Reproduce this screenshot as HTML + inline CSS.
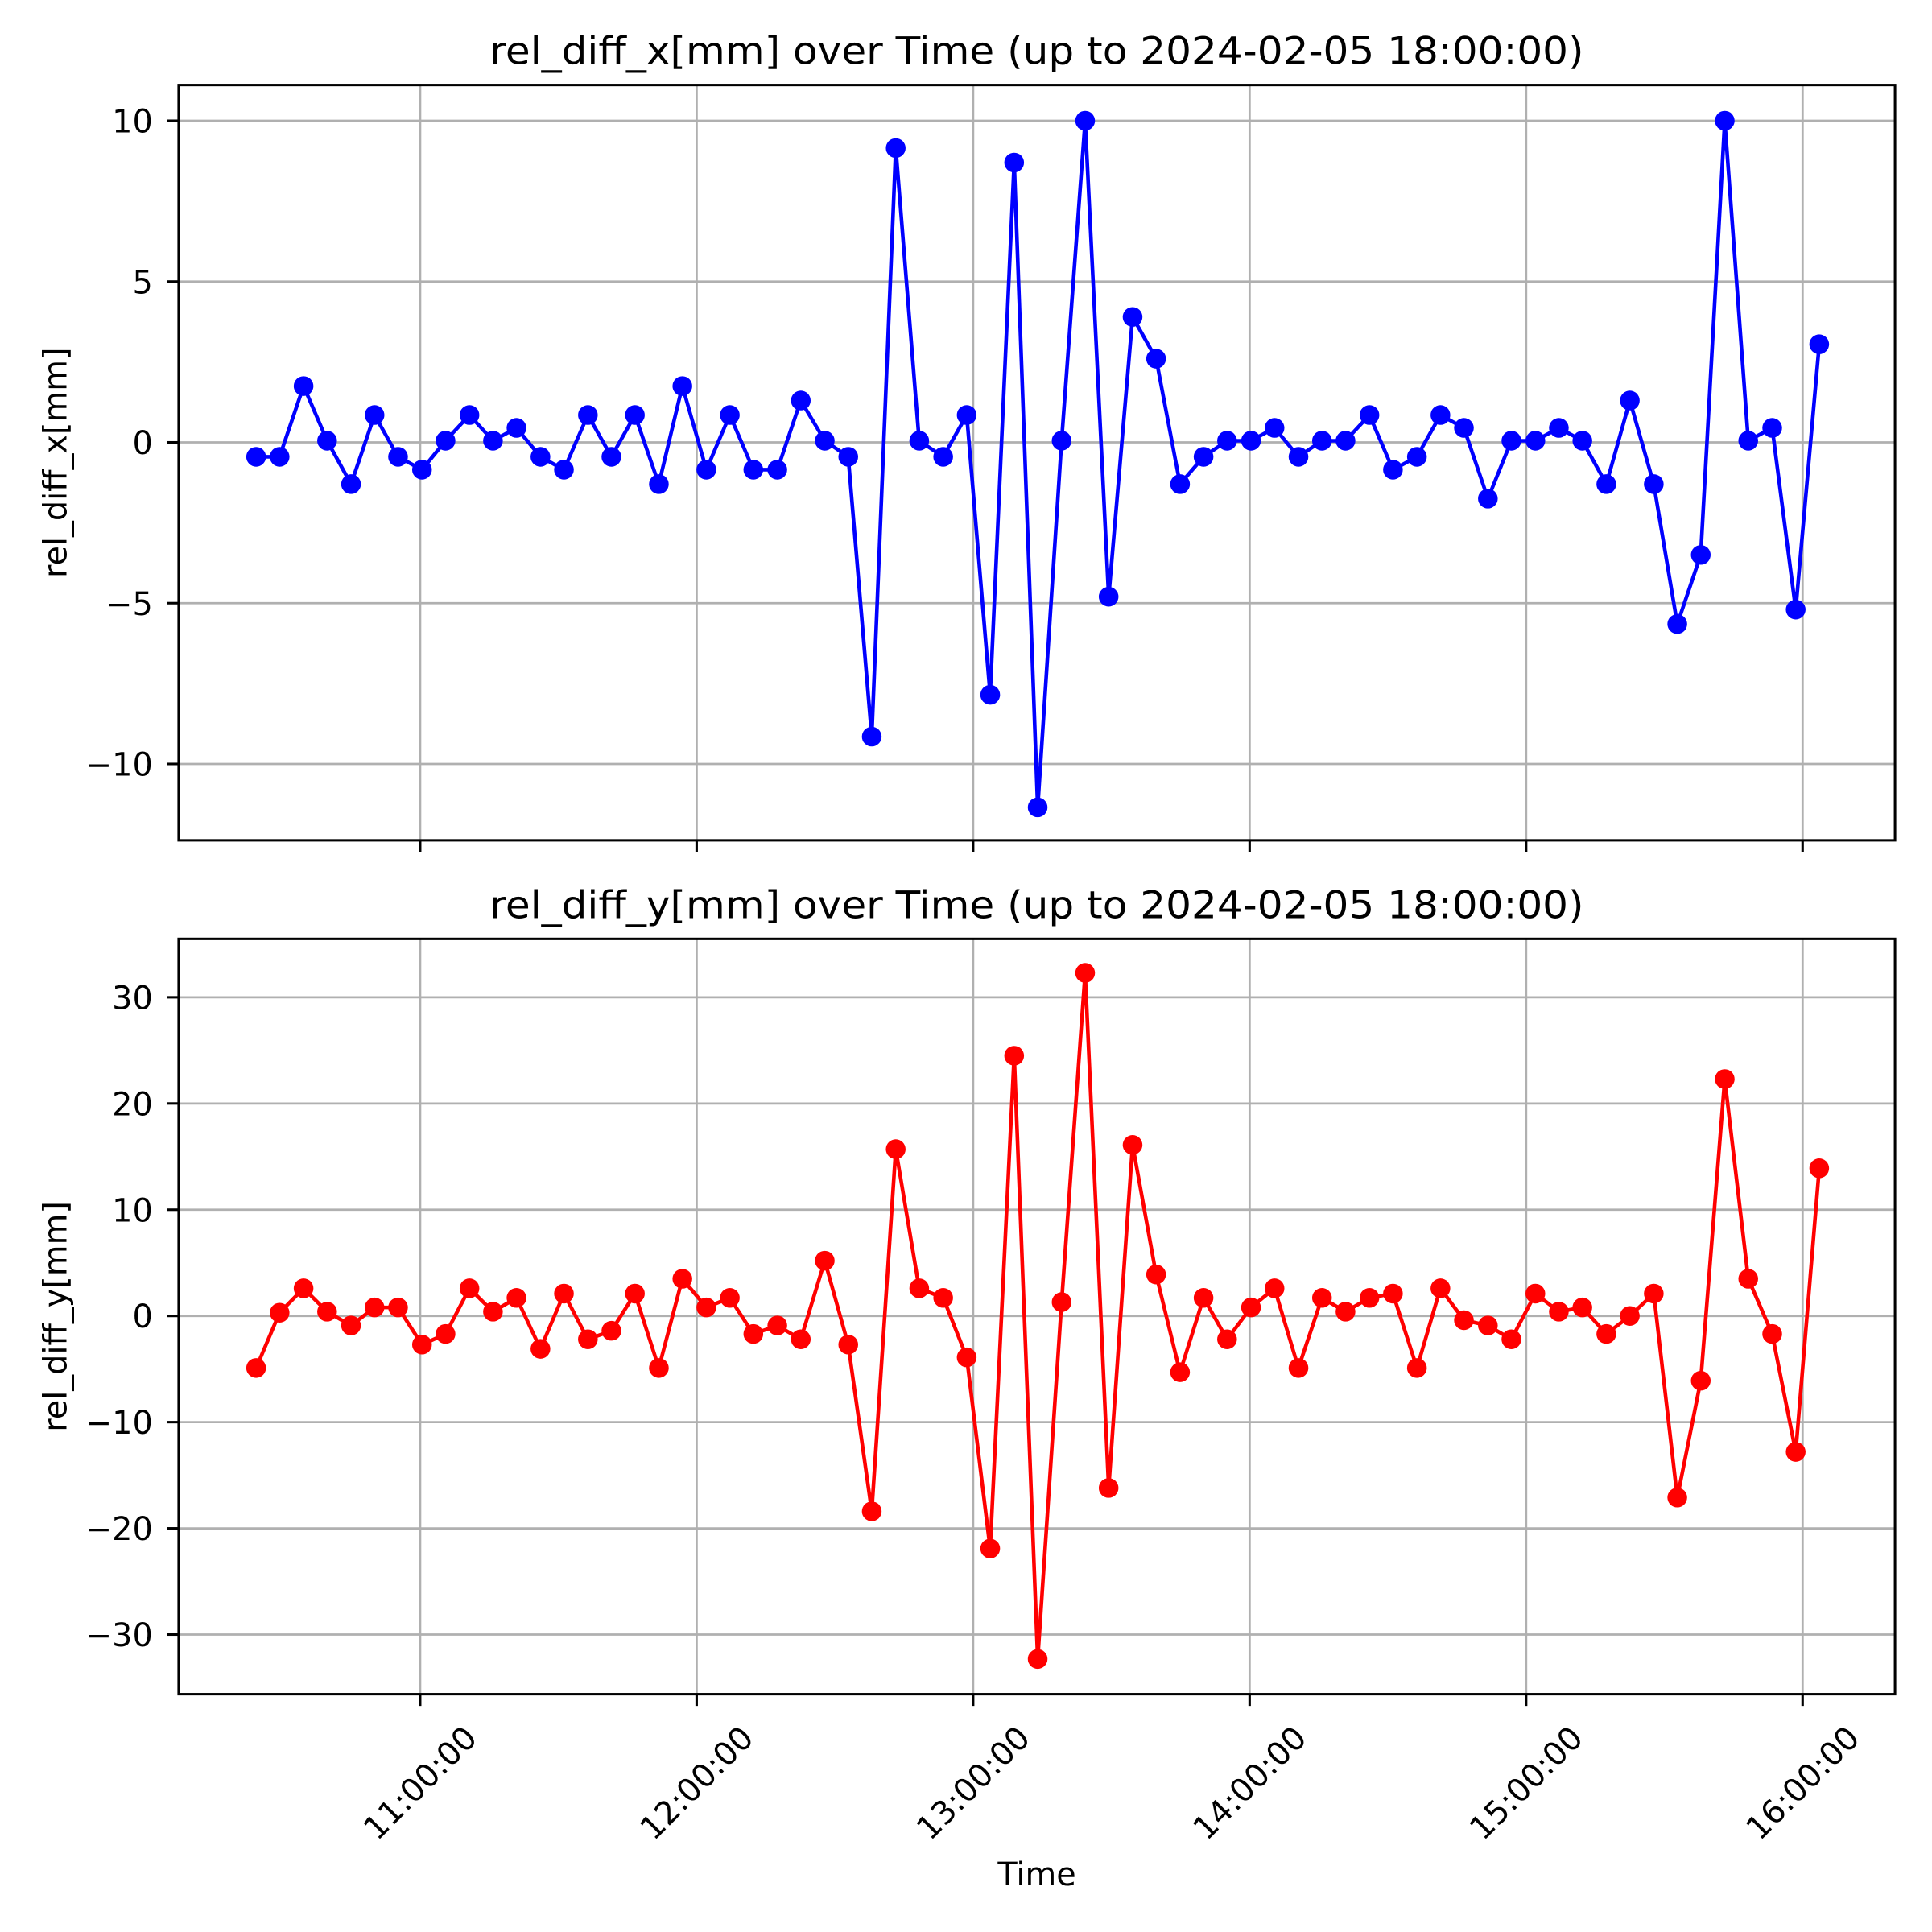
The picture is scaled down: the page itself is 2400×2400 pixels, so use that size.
<!DOCTYPE html>
<html><head><meta charset="utf-8"><style>
html,body{margin:0;padding:0;background:#fff}
svg{display:block}
text{font-family:"DejaVu Sans","Liberation Sans",sans-serif;fill:#000}
</style></head><body>
<svg id="chart" xmlns="http://www.w3.org/2000/svg" width="2400" height="2400" viewBox="0 0 1568 1568"></svg>
<script>
const timesMin = [624.4,629.5,634.7,639.8,645.0,650.1,655.2,660.4,665.5,670.7,675.8,680.9,686.1,691.2,696.4,701.5,706.6,711.8,716.9,722.1,727.2,732.3,737.5,742.6,747.8,752.9,758.0,763.2,768.3,773.5,778.6,783.7,788.9,794.0,799.2,804.3,809.4,814.6,819.7,824.9,830.0,835.1,840.3,845.4,850.6,855.7,860.8,866.0,871.1,876.3,881.4,886.5,891.7,896.8,902.0,907.1,912.2,917.4,922.5,927.7,932.8,937.9,943.1,948.2,953.4,958.5,963.6];
const relDiffX = [-0.45,-0.45,1.75,0.05,-1.3,0.85,-0.45,-0.85,0.05,0.85,0.05,0.45,-0.45,-0.85,0.85,-0.45,0.85,-1.3,1.75,-0.85,0.85,-0.85,-0.85,1.3,0.05,-0.45,-9.15,9.15,0.05,-0.45,0.85,-7.85,8.7,-11.35,0.05,10.0,-4.8,3.9,2.6,-1.3,-0.45,0.05,0.05,0.45,-0.45,0.05,0.05,0.85,-0.85,-0.45,0.85,0.45,-1.75,0.05,0.05,0.45,0.05,-1.3,1.3,-1.3,-5.65,-3.5,10.0,0.05,0.45,-5.2,3.05];
const relDiffY = [-4.9,0.3,2.6,0.4,-0.9,0.8,0.8,-2.7,-1.7,2.6,0.4,1.7,-3.1,2.1,-2.2,-1.4,2.1,-4.9,3.5,0.8,1.7,-1.7,-0.9,-2.2,5.2,-2.7,-18.4,15.7,2.6,1.7,-3.9,-21.9,24.5,-32.3,1.3,32.3,-16.2,16.1,3.9,-5.3,1.7,-2.2,0.8,2.6,-4.9,1.7,0.4,1.7,2.1,-4.9,2.6,-0.4,-0.9,-2.2,2.1,0.4,0.8,-1.7,0.0,2.1,-17.1,-6.1,22.3,3.5,-1.7,-12.8,13.9];
const xTickMin = [660,720,780,840,900,960];
const xTickLabels = ["11:00:00","12:00:00","13:00:00","14:00:00","15:00:00","16:00:00"];
const yTicksTop = [-10,-5,0,5,10];
const yTicksBottom = [-30,-20,-10,0,10,20,30];

const NS="http://www.w3.org/2000/svg";
const svg=document.getElementById('chart');
function mk(tag,attrs,parent){const e=document.createElementNS(NS,tag);for(const k in attrs)e.setAttribute(k,attrs[k]);(parent||svg).appendChild(e);return e;}
const L=145,R=1538;
function xs(m){return 341+(m-660)/60*224.4;}
function yLabel(v){return v<0?'\u2212'+Math.abs(v):String(v);}

function panel(cfg){
  const g=mk('g',{});
  
  
  const ys=v=>cfg.y0+(cfg.yRef-v)*cfg.ppu;
  xTickMin.forEach(m=>{const l=mk('line',{x1:xs(m),x2:xs(m),y1:cfg.top,y2:cfg.bot,stroke:'#b0b0b0','stroke-width':1.8},g);
    });
  cfg.yt.forEach(v=>{const l=mk('line',{x1:L,x2:R,y1:ys(v),y2:ys(v),stroke:'#b0b0b0','stroke-width':1.8},g);
    });
  xTickMin.forEach((m,i)=>{mk('line',{x1:xs(m),x2:xs(m),y1:cfg.bot,y2:cfg.bot+9.5,stroke:'#000','stroke-width':2},g);
    if(cfg.xlabels){const cx=xs(m),cy=1447;
      const t=mk('text',{x:cx,y:cy+9,'font-size':26,'text-anchor':'middle',transform:`rotate(-45 ${cx} ${cy})`},g);
      t.textContent=xTickLabels[i];}});
  cfg.yt.forEach(v=>{mk('line',{x1:L-9.5,x2:L,y1:ys(v),y2:ys(v),stroke:'#000','stroke-width':2},g);
    const t=mk('text',{x:124,y:ys(v)+9.5,'font-size':26,'text-anchor':'end'},g);t.textContent=yLabel(v);
    });
  const pts=timesMin.map((m,i)=>xs(m).toFixed(1)+','+ys(cfg.data[i]).toFixed(1)).join(' ');
  const pl=mk('polyline',{points:pts,fill:'none',stroke:cfg.color,'stroke-width':3,'stroke-linejoin':'round'},g);
  
  timesMin.forEach((m,i)=>{const c=mk('circle',{cx:xs(m),cy:ys(cfg.data[i]),r:8,fill:cfg.color},g);
    });
  const f=mk('rect',{x:L,y:cfg.top,width:R-L,height:cfg.bot-cfg.top,fill:'none',stroke:'#000','stroke-width':2},g);
  
  const ti=mk('text',{x:(L+R)/2,y:cfg.top-17,'font-size':31,'text-anchor':'middle',textLength:888,lengthAdjust:'spacingAndGlyphs'},g);ti.textContent=cfg.title;
  
  const cy=(cfg.top+cfg.bot)/2;
  const yl=mk('text',{x:54,y:cy,'font-size':26,'text-anchor':'middle',transform:`rotate(-90 54 ${cy})`},g);yl.textContent=cfg.ylabel;
  
}
panel({name:'x-panel',series:'rel-diff-x',top:69,bot:682,y0:98,yRef:10,ppu:26.1,yt:yTicksTop,data:relDiffX,color:'#0000ff',
  title:'rel_diff_x[mm] over Time (up to 2024-02-05 18:00:00)',ylabel:'rel_diff_x[mm]',xlabels:false});
panel({name:'y-panel',series:'rel-diff-y',top:762,bot:1375,y0:1068,yRef:0,ppu:8.62,yt:yTicksBottom,data:relDiffY,color:'#ff0000',
  title:'rel_diff_y[mm] over Time (up to 2024-02-05 18:00:00)',ylabel:'rel_diff_y[mm]',xlabels:true});
const xt=mk('text',{x:(L+R)/2,y:1530,'font-size':26,'text-anchor':'middle'});xt.textContent='Time';


</script>
</body></html>
